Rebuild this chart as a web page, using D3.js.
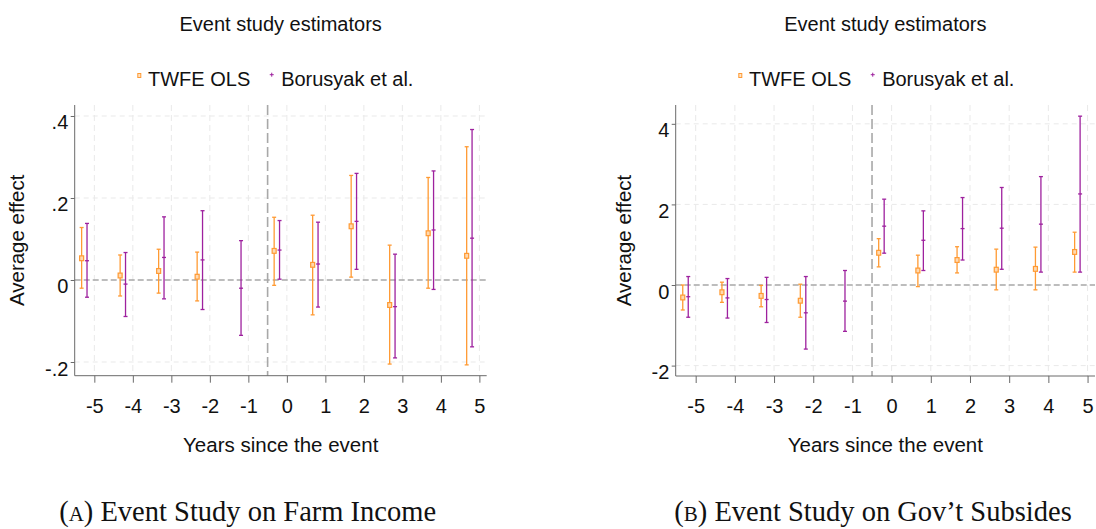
<!DOCTYPE html>
<html>
<head>
<meta charset="utf-8">
<script src="https://cdn.jsdelivr.net/npm/d3@7"></script>
<style>
  html, body { margin: 0; padding: 0; background: #fff; }
  svg { display: block; }
</style>
</head>
<body>
<svg id="chart" width="1096" height="529"></svg>
<script>
// Event-time periods (years relative to the event)
const periods = [-5, -4, -3, -2, -1, 0, 1, 2, 3, 4, 5];

// Panel A: farm income — TWFE OLS (period -1 is the omitted reference)
const farmTwfeEst = [0.053, 0.011, 0.022, 0.008, null, 0.071, 0.037, 0.131, -0.061, 0.114, 0.059];
const farmTwfeLo  = [-0.020, -0.039, -0.032, -0.051, null, -0.013, -0.085, 0.007, -0.205, -0.020, -0.207];
const farmTwfeHi  = [0.128, 0.061, 0.075, 0.068, null, 0.153, 0.158, 0.255, 0.085, 0.250, 0.325];
// Panel A: farm income — Borusyak et al. imputation estimator
const farmBjsEst = [0.047, -0.010, 0.055, 0.049, -0.020, 0.073, 0.039, 0.143, -0.065, 0.122, 0.102];
const farmBjsLo  = [-0.042, -0.089, -0.046, -0.072, -0.135, 0.002, -0.066, 0.026, -0.190, -0.023, -0.163];
const farmBjsHi  = [0.138, 0.067, 0.154, 0.169, 0.096, 0.145, 0.141, 0.260, 0.063, 0.266, 0.367];

// Panel B: government subsidies — TWFE OLS
const subsTwfeEst = [-0.31, -0.18, -0.27, -0.39, null, 0.80, 0.36, 0.62, 0.38, 0.40, 0.82];
const subsTwfeLo  = [-0.62, -0.43, -0.54, -0.80, null, 0.45, -0.04, 0.30, -0.12, -0.12, 0.32];
const subsTwfeHi  = [0.00, 0.07, -0.01, 0.02, null, 1.15, 0.74, 0.95, 0.89, 0.94, 1.31];
// Panel B: government subsidies — Borusyak et al.
const subsBjsEst = [-0.29, -0.32, -0.36, -0.69, -0.40, 1.46, 1.11, 1.40, 1.41, 1.51, 2.26];
const subsBjsLo  = [-0.80, -0.82, -0.93, -1.59, -1.15, 0.79, 0.36, 0.62, 0.39, 0.32, 0.32];
const subsBjsHi  = [0.21, 0.16, 0.19, 0.21, 0.36, 2.13, 1.84, 2.17, 2.42, 2.69, 4.19];

// Axis ticks and labels
const xTicks = [-5, -4, -3, -2, -1, 0, 1, 2, 3, 4, 5];
const farmYTicks = [-0.2, 0, 0.2, 0.4];
const farmYLabels = ["-.2", "0", ".2", ".4"];
const subsYTicks = [-2, 0, 2, 4];
const subsYLabels = ["-2", "0", "2", "4"];

// Text
const chartTitle = "Event study estimators";
const seriesNames = ["TWFE OLS", "Borusyak et al."];
const xTitle = "Years since the event";
const yTitle = "Average effect";
const captions = [["A", " Event Study on Farm Income"], ["B", " Event Study on Gov\u2019t Subsides"]];

const ORANGE = "#FF9A33";
const PURPLE = "#9E219E";
const SANS = "'Liberation Sans', Arial, Helvetica, sans-serif";
const SERIF = "'Liberation Serif', 'Times New Roman', serif";

const svg = d3.select("#chart");

function rows(est, lo, hi) {
  return periods.map((p, i) => ({ p, est: est[i], lo: lo[i], hi: hi[i] }))
                .filter(d => d.est !== null);
}

function drawPanel(cfg) {
  const g = svg.append("g");
  const x = d3.scaleLinear().domain([-5.51, 5.19]).range([cfg.left, cfg.right]);
  const y = d3.scaleLinear().domain(cfg.yDomain).range([cfg.bottom, cfg.top]);

  // grid
  g.append("g").selectAll("line").data(cfg.yTicks.filter(v => v !== 0)).join("line")
    .attr("x1", cfg.left).attr("x2", cfg.right)
    .attr("y1", d => y(d)).attr("y2", d => y(d))
    .attr("stroke", "#E9E9E9").attr("stroke-width", 1).attr("stroke-dasharray", "5,4");
  g.append("g").selectAll("line").data(xTicks).join("line")
    .attr("x1", d => x(d)).attr("x2", d => x(d))
    .attr("y1", cfg.top).attr("y2", cfg.bottom)
    .attr("stroke", "#E9E9E9").attr("stroke-width", 1).attr("stroke-dasharray", "6,4");

  // reference lines
  g.append("line")
    .attr("x1", cfg.left).attr("x2", cfg.right).attr("y1", y(0)).attr("y2", y(0))
    .attr("stroke", "#A8A8A8").attr("stroke-width", 1.4).attr("stroke-dasharray", "6,3");
  g.append("line")
    .attr("x1", x(-0.5)).attr("x2", x(-0.5)).attr("y1", cfg.top).attr("y2", cfg.bottom)
    .attr("stroke", "#A8A8A8").attr("stroke-width", 1.6).attr("stroke-dasharray", "10,4");

  // axes
  const xAxis = d3.axisBottom(x).tickValues(xTicks).tickSize(7).tickPadding(0).tickFormat(d3.format("d"));
  const xa = g.append("g").attr("transform", `translate(0,${cfg.bottom})`).call(xAxis);
  xa.select(".domain").remove();
  xa.selectAll(".tick line").attr("stroke", "#6A6A6A");
  xa.selectAll(".tick text").attr("font-family", SANS).attr("font-size", 20).attr("fill", "#111")
    .attr("dy", null).attr("y", 413 - cfg.bottom).text(d => d < 0 ? "-" + Math.abs(d) : d);
  g.append("line").attr("x1", cfg.left).attr("x2", cfg.right).attr("y1", cfg.bottom).attr("y2", cfg.bottom)
    .attr("stroke", "#6A6A6A").attr("stroke-width", 1);

  const yAxis = d3.axisLeft(y).tickValues(cfg.yTicks).tickSize(4).tickPadding(2.4)
    .tickFormat((d, i) => cfg.yLabels[i]);
  const ya = g.append("g").attr("transform", `translate(${cfg.left},0)`).call(yAxis);
  ya.select(".domain").remove();
  ya.selectAll(".tick line").attr("stroke", "#6A6A6A");
  ya.selectAll(".tick text").attr("font-family", SANS).attr("font-size", 20).attr("fill", "#111")
    .attr("dy", null).attr("y", 13);
  g.append("line").attr("x1", cfg.left).attr("x2", cfg.left).attr("y1", cfg.top).attr("y2", cfg.bottom)
    .attr("stroke", "#6A6A6A").attr("stroke-width", 1);

  // axis titles
  const cx = (cfg.left + cfg.right) / 2;
  const cy = (cfg.top + cfg.bottom) / 2;
  g.append("text").attr("x", cx).attr("y", 452).attr("text-anchor", "middle")
    .attr("font-family", SANS).attr("font-size", 20.5).attr("fill", "#111").text(xTitle);
  g.append("text").attr("transform", `translate(${cfg.yTitleX},${cy}) rotate(-90)`)
    .attr("text-anchor", "middle").attr("font-family", SANS).attr("font-size", 20.5)
    .attr("fill", "#111").text(yTitle);

  // title
  g.append("text").attr("x", cx).attr("y", 30.5).attr("text-anchor", "middle")
    .attr("font-family", SANS).attr("font-size", 20).attr("fill", "#111").text(chartTitle);

  // legend
  const lx = cfg.left + 64.6;
  g.append("rect").attr("x", lx - 1.5).attr("y", 73.5).attr("width", 3).attr("height", 4)
    .attr("fill", "#FFE3C4").attr("stroke", ORANGE).attr("stroke-width", 1);
  const t1 = g.append("text").attr("x", lx + 8.7).attr("y", 86).attr("font-family", SANS)
    .attr("font-size", 20).attr("fill", "#111").text(seriesNames[0]);
  const px = lx + 8.7 + t1.node().getComputedTextLength() + 21.5;
  g.append("line").attr("x1", px - 2).attr("x2", px + 2).attr("y1", 74.7).attr("y2", 74.7)
    .attr("stroke", PURPLE).attr("stroke-width", 1);
  g.append("line").attr("x1", px).attr("x2", px).attr("y1", 72.7).attr("y2", 76.7)
    .attr("stroke", PURPLE).attr("stroke-width", 1);
  g.append("text").attr("x", px + 9.4).attr("y", 86).attr("font-family", SANS)
    .attr("font-size", 20).attr("fill", "#111").text(seriesNames[1]);

  // estimates with confidence intervals
  const series = [
    { data: cfg.twfe, off: -0.33, color: ORANGE, kind: "square" },
    { data: cfg.bjs, off: -0.19, color: PURPLE, kind: "plus" }
  ];
  series.forEach(s => {
    const sg = g.append("g");
    const gx = d => x(d.p + s.off);
    sg.selectAll("line.ci").data(s.data).join("line").attr("class", "ci")
      .attr("x1", gx).attr("x2", gx).attr("y1", d => y(d.lo)).attr("y2", d => y(d.hi))
      .attr("stroke", s.color).attr("stroke-width", 1.3);
    ["lo", "hi"].forEach(k => {
      sg.selectAll("line.cap" + k).data(s.data).join("line").attr("class", "cap" + k)
        .attr("x1", d => gx(d) - 2).attr("x2", d => gx(d) + 2)
        .attr("y1", d => y(d[k])).attr("y2", d => y(d[k]))
        .attr("stroke", s.color).attr("stroke-width", 1.3);
    });
    if (s.kind === "square") {
      sg.selectAll("rect").data(s.data).join("rect")
        .attr("x", d => gx(d) - 2).attr("y", d => y(d.est) - 2.4)
        .attr("width", 4).attr("height", 4.8)
        .attr("fill", "#FFD9B0").attr("stroke", s.color).attr("stroke-width", 1.2);
    } else {
      sg.selectAll("line.pt").data(s.data).join("line").attr("class", "pt")
        .attr("x1", d => gx(d) - 2).attr("x2", d => gx(d) + 2)
        .attr("y1", d => y(d.est)).attr("y2", d => y(d.est))
        .attr("stroke", s.color).attr("stroke-width", 1.3);
    }
  });

  // caption
  const cap = g.append("text").attr("x", cfg.captionX).attr("y", 521).attr("text-anchor", "middle")
    .attr("font-family", SERIF).attr("font-size", 28.5).attr("fill", "#111");
  cap.append("tspan").text("(");
  cap.append("tspan").attr("font-size", 21).text(cfg.caption[0]);
  cap.append("tspan").text(")" + cfg.caption[1]);
}

drawPanel({
  left: 74.7, right: 486.7, top: 105, bottom: 375.7,
  yDomain: [-0.2334, 0.4268], yTicks: farmYTicks, yLabels: farmYLabels,
  twfe: rows(farmTwfeEst, farmTwfeLo, farmTwfeHi),
  bjs: rows(farmBjsEst, farmBjsLo, farmBjsHi),
  yTitleX: 24, captionX: 247.6, caption: captions[0]
});

drawPanel({
  left: 675.7, right: 1095, top: 105, bottom: 376,
  yDomain: [-2.258, 4.467], yTicks: subsYTicks, yLabels: subsYLabels,
  twfe: rows(subsTwfeEst, subsTwfeLo, subsTwfeHi),
  bjs: rows(subsBjsEst, subsBjsLo, subsBjsHi),
  yTitleX: 631, captionX: 873, caption: captions[1]
});
</script>
</body>
</html>
